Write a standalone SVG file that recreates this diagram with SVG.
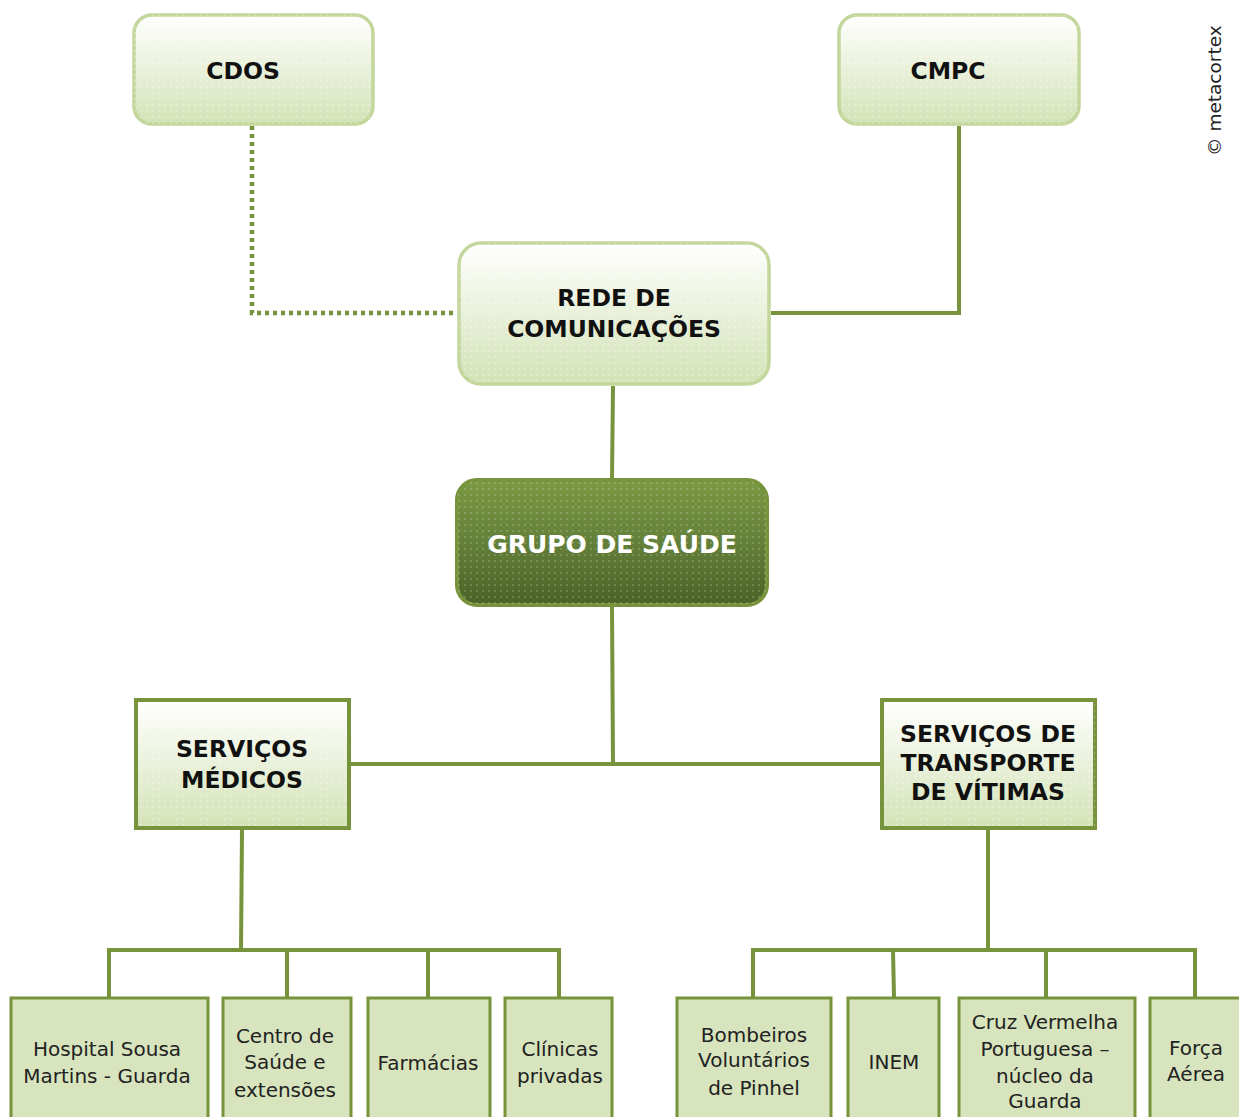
<svg xmlns="http://www.w3.org/2000/svg" width="1239" height="1117" viewBox="0 0 1239 1117">
  <defs>
    <linearGradient id="lightFill" x1="0" y1="0" x2="0" y2="1">
      <stop offset="0" stop-color="#ffffff"/>
      <stop offset="0.25" stop-color="#f4f8ec"/>
      <stop offset="1" stop-color="#d3e2b6"/>
    </linearGradient>
    <linearGradient id="darkFill" x1="0" y1="0" x2="0" y2="1">
      <stop offset="0" stop-color="#7b9a42"/>
      <stop offset="0.5" stop-color="#63803a"/>
      <stop offset="1" stop-color="#4b6226"/>
    </linearGradient>
    <pattern id="dots" width="6" height="6" patternUnits="userSpaceOnUse">
      <circle cx="3" cy="3" r="0.8" fill="#ffffff" fill-opacity="0.55"/>
    </pattern>
    <style>
      .soft { stroke: #c3d69b; stroke-width: 3.5; }
      .dark { stroke: #77933c; stroke-width: 4; }
      .sq { stroke: #77933c; stroke-width: 4; }
      .leaf { fill: #d7e4bd; stroke: #77933c; stroke-width: 3; }
      .link { fill: none; stroke: #77933c; stroke-width: 4; }
      .dotted { stroke-dasharray: 4 4; stroke-width: 4.5; }
      .head { font-family: "DejaVu Sans", sans-serif; font-weight: bold; font-size: 23.5px; fill: #111; text-anchor: middle; }
      .white { fill: #ffffff; font-size: 25px; }
      .leafText { font-family: "DejaVu Sans", sans-serif; font-size: 20px; fill: #222; text-anchor: middle; }
      .credit { font-family: "DejaVu Sans", sans-serif; font-size: 18.5px; fill: #222; }
    </style>
  </defs>

  <!-- connectors -->
  <g id="connectors">
    <path class="link dotted" d="M252 126 V313 H456"/>
    <path class="link" d="M959 126 V313 H771"/>
    <path class="link" d="M613 386 L612 479"/>
    <path class="link" d="M612 606 L613 764"/>
    <path class="link" d="M351 764 H881"/>
    <path class="link" d="M242 830 L241 950"/>
    <path class="link" d="M107 950 H561"/>
    <path class="link" d="M109 950 V997 M287 950 V997 M428 950 V997 M559 950 V997"/>
    <path class="link" d="M988 830 V950"/>
    <path class="link" d="M751 950 H1197"/>
    <path class="link" d="M753 950 V997 M893 950 L894 997 M1046 950 V997 M1195 950 V997"/>
  </g>

  <!-- top rounded nodes -->
  <g id="cdos">
    <rect x="134" y="15" width="239" height="109" rx="18" fill="url(#lightFill)" class="soft"/>
    <rect x="134" y="15" width="239" height="109" rx="18" fill="url(#dots)"/>
    <text class="head" x="243" y="79">CDOS</text>
  </g>
  <g id="cmpc">
    <rect x="839" y="15" width="240" height="109" rx="18" fill="url(#lightFill)" class="soft"/>
    <rect x="839" y="15" width="240" height="109" rx="18" fill="url(#dots)"/>
    <text class="head" x="948" y="79">CMPC</text>
  </g>
  <g id="rede">
    <rect x="459" y="243" width="310" height="141" rx="22" fill="url(#lightFill)" class="soft"/>
    <rect x="459" y="243" width="310" height="141" rx="22" fill="url(#dots)"/>
    <text class="head" x="614" y="306">REDE DE</text>
    <text class="head" x="614" y="337">COMUNICAÇÕES</text>
  </g>
  <g id="grupo">
    <rect x="457" y="480" width="310" height="125" rx="20" fill="url(#darkFill)" class="dark"/>
    <rect x="457" y="480" width="310" height="125" rx="20" fill="url(#dots)" opacity="0.7"/>
    <text class="head white" x="612" y="553">GRUPO DE SAÚDE</text>
  </g>

  <!-- service nodes -->
  <g id="servicos-medicos">
    <rect x="136" y="700" width="213" height="128" fill="url(#lightFill)" class="sq"/>
    <rect x="136" y="700" width="213" height="128" fill="url(#dots)"/>
    <text class="head" x="242" y="757">SERVIÇOS</text>
    <text class="head" x="242" y="788">MÉDICOS</text>
  </g>
  <g id="servicos-transporte">
    <rect x="882" y="700" width="213" height="128" fill="url(#lightFill)" class="sq"/>
    <rect x="882" y="700" width="213" height="128" fill="url(#dots)"/>
    <text class="head" x="988" y="742">SERVIÇOS DE</text>
    <text class="head" x="988" y="771">TRANSPORTE</text>
    <text class="head" x="988" y="800">DE VÍTIMAS</text>
  </g>

  <!-- leaf nodes -->
  <g id="hospital">
    <rect x="11" y="998" width="197" height="130" class="leaf"/>
    <text class="leafText" x="107" y="1056">Hospital Sousa</text>
    <text class="leafText" x="107" y="1083">Martins - Guarda</text>
  </g>
  <g id="centro-saude">
    <rect x="223" y="998" width="128" height="130" class="leaf"/>
    <text class="leafText" x="285" y="1043">Centro de</text>
    <text class="leafText" x="285" y="1069">Saúde e</text>
    <text class="leafText" x="285" y="1097">extensões</text>
  </g>
  <g id="farmacias">
    <rect x="368" y="998" width="122" height="130" class="leaf"/>
    <text class="leafText" x="428" y="1070">Farmácias</text>
  </g>
  <g id="clinicas">
    <rect x="505" y="998" width="107" height="130" class="leaf"/>
    <text class="leafText" x="560" y="1056">Clínicas</text>
    <text class="leafText" x="560" y="1083">privadas</text>
  </g>
  <g id="bombeiros">
    <rect x="677" y="998" width="154" height="130" class="leaf"/>
    <text class="leafText" x="754" y="1042">Bombeiros</text>
    <text class="leafText" x="754" y="1067">Voluntários</text>
    <text class="leafText" x="754" y="1095">de Pinhel</text>
  </g>
  <g id="inem">
    <rect x="848" y="998" width="91" height="130" class="leaf"/>
    <text class="leafText" x="894" y="1069">INEM</text>
  </g>
  <g id="cruz-vermelha">
    <rect x="959" y="998" width="176" height="130" class="leaf"/>
    <text class="leafText" x="1045" y="1029">Cruz Vermelha</text>
    <text class="leafText" x="1045" y="1056">Portuguesa –</text>
    <text class="leafText" x="1045" y="1083">núcleo da</text>
    <text class="leafText" x="1045" y="1108">Guarda</text>
  </g>
  <g id="forca-aerea">
    <rect x="1150" y="998" width="100" height="130" class="leaf"/>
    <text class="leafText" x="1196" y="1055">Força</text>
    <text class="leafText" x="1196" y="1081">Aérea</text>
  </g>

  <text class="credit" transform="translate(1221 156) rotate(-90)">© metacortex</text>
</svg>
